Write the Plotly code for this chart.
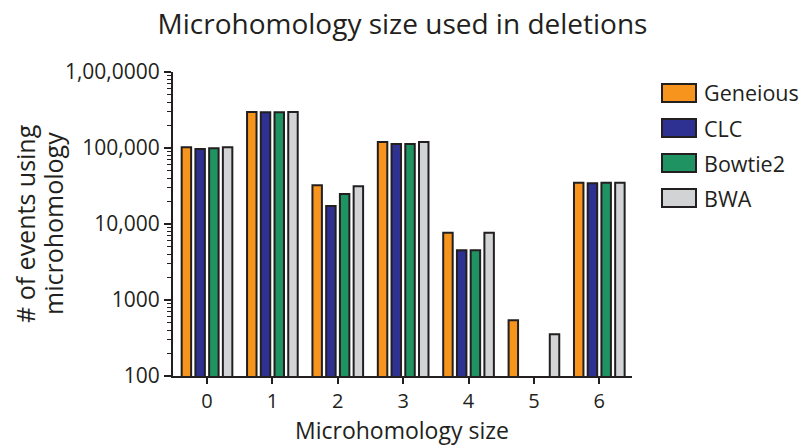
import plotly.graph_objects as go

# Data: number of deletion events using each microhomology size
sizes = [0, 1, 2, 3, 4, 5, 6]
series_names = ["Geneious", "CLC", "Bowtie2", "BWA"]
geneious = [102000, 297000, 32300, 120000, 7700, 540, 35000]
clc = [97000, 295000, 17300, 113000, 4500, None, 34500]
bowtie2 = [99000, 295000, 24800, 113000, 4500, None, 34800]
bwa = [102000, 297000, 31300, 120000, 7700, 354, 35000]

y_tick_vals = [100, 1000, 10000, 100000, 1000000]
y_tick_text = ["100", "1000", "10,000", "100,000", "1,00,0000"]

colors = ["#F7941D", "#2E3192", "#1F9462", "#D1D3D4"]
edge = "#231F20"
font_family = "Open Sans, Noto Sans, DejaVu Sans, sans-serif"

W, H = 804, 447
L, R, T, B = 173, 172, 72, 71

fig = go.Figure()
for name, vals, col in zip(series_names, [geneious, clc, bowtie2, bwa], colors):
    fig.add_trace(go.Bar(
        x=sizes, y=vals, name=name,
        marker=dict(color=col, line=dict(color=edge, width=2)),
        showlegend=False,
    ))

minor_vals = [m * 10 ** d for d in range(2, 6) for m in range(2, 10)]

fig.update_layout(
    width=W, height=H,
    margin=dict(l=L, r=R, t=T, b=B, autoexpand=False),
    paper_bgcolor="white", plot_bgcolor="white",
    barmode="group", bargap=0.16, bargroupgap=0.31,
    font=dict(family=font_family, color=edge),
    title=dict(text="Microhomology size used in deletions",
               x=0.5, xref="paper", y=0.945, yref="container",
               xanchor="center", yanchor="middle",
               font=dict(size=28, color=edge)),
    xaxis=dict(
        range=[-0.52, 6.5], tickvals=sizes, ticktext=[str(s) for s in sizes],
        showline=True, linecolor=edge, linewidth=2,
        ticks="outside", ticklen=6, tickwidth=2, tickcolor=edge,
        tickfont=dict(size=20), showgrid=False, zeroline=False,
        automargin=False,
    ),
    yaxis=dict(
        type="log", range=[2, 6],
        tickvals=y_tick_vals, ticktext=y_tick_text,
        showline=True, linecolor=edge, linewidth=2,
        ticks="outside", ticklen=7, tickwidth=2, tickcolor=edge,
        tickfont=dict(size=21), showgrid=False, zeroline=False,
        automargin=False,
        minor=dict(tickvals=minor_vals, ticks="outside", ticklen=4,
                   tickwidth=1.2, tickcolor=edge, showgrid=False),
    ),
)

pw, ph = W - L - R, H - T - B
def px_x(x):
    return (x - L) / pw
def px_y(y):
    return (H - B - y) / ph

# Axis titles
fig.add_annotation(
    text="Microhomology size", x=px_x(402), y=px_y(430),
    xref="paper", yref="paper", xanchor="center", yanchor="middle",
    showarrow=False, borderpad=0, font=dict(size=23, color=edge),
)
for line, xc in [("# of events using", 25), ("microhomology", 53)]:
    fig.add_annotation(
        text=line, textangle=-90, x=px_x(xc), y=px_y(224),
        xref="paper", yref="paper", xanchor="center", yanchor="middle",
        showarrow=False, font=dict(size=25, color=edge),
    )

# Legend drawn as swatches with labels to the right of the plot
for i, (name, col) in enumerate(zip(series_names, colors)):
    top = 84 + 35 * i
    fig.add_shape(type="rect", xref="paper", yref="paper",
                  x0=px_x(662), x1=px_x(696), y0=px_y(top + 18), y1=px_y(top),
                  fillcolor=col, line=dict(color=edge, width=2))
    fig.add_annotation(text=name, xref="paper", yref="paper",
                       x=px_x(702), y=px_y(top + 9), xanchor="left", yanchor="middle",
                       showarrow=False, font=dict(size=21.5, color=edge))

fig.write_html("out.html")
